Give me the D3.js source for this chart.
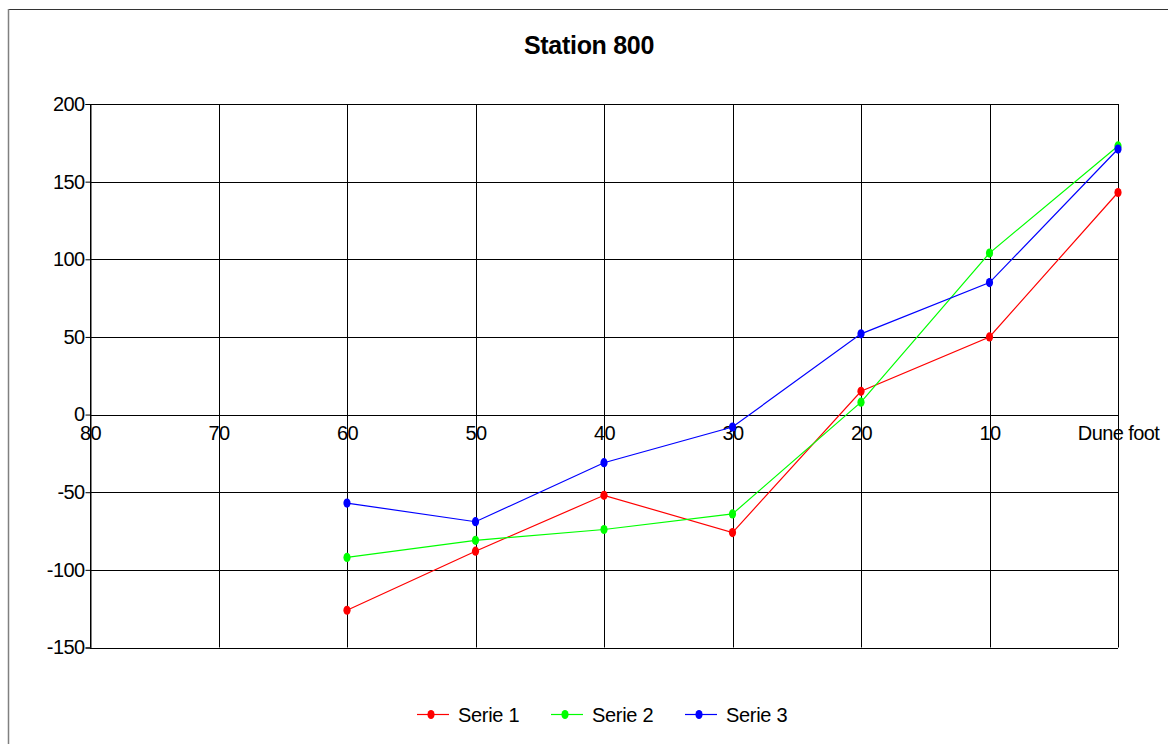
<!DOCTYPE html>
<html><head><meta charset="utf-8">
<script src="https://cdn.jsdelivr.net/npm/d3@7"></script>
<style>body{margin:0;background:#fff}svg{display:block}text{font-family:"Liberation Sans",Arial,sans-serif;fill:#000}</style>
</head><body>
<script>
const categories = ["80","70","60","50","40","30","20","10","Dune foot"];
const serie1 = [null,null,-126,-88,-52,-76,15,50,143];
const serie2 = [null,null,-92,-81,-74,-64,8,104,173];
const serie3 = [null,null,-57,-69,-31,-8,52,85,171];
const yTicks = [200,150,100,50,0,-50,-100,-150];
const seriesNames = ["Serie 1","Serie 2","Serie 3"];
const colors = ["#ff0000","#00ff00","#0000ff"];
const title = "Station 800";

const W=1168,H=744;
const FONT="'Liberation Sans',Arial,sans-serif";
const svg=d3.select("body").append("svg").attr("width",W).attr("height",H);
svg.append("rect").attr("x",8.5).attr("y",9.5).attr("width",1200).attr("height",800)
  .attr("fill","none").attr("stroke","#333");
svg.append("line").attr("x1",8.5).attr("x2",8.5).attr("y1",9).attr("y2",H).attr("stroke","#808080").attr("stroke-width",1.5);

const L=90,R=1118,T=104,B=647.5;
const x=d3.scalePoint().domain(categories).range([L,R]);
const y=d3.scaleLinear().domain([-150,200]).range([B,T]);

svg.append("g").selectAll("line").data(yTicks).join("line")
  .attr("x1",L).attr("x2",R).attr("y1",d=>Math.round(y(d))+0.5).attr("y2",d=>Math.round(y(d))+0.5)
  .attr("stroke","#000").attr("stroke-width",1);
svg.append("g").selectAll("line").data(categories).join("line")
  .attr("x1",d=>Math.round(x(d))+0.5).attr("x2",d=>Math.round(x(d))+0.5).attr("y1",T).attr("y2",B)
  .attr("stroke","#000").attr("stroke-width",1);

const yAxis=d3.axisLeft(y).tickValues(yTicks).tickSize(5).tickPadding(1).tickFormat(d=>String(d));
const gy=svg.append("g").attr("transform",`translate(${L+0.5},0)`).call(yAxis);
gy.select(".domain").attr("stroke","#000");
gy.selectAll("text").style("font-size","20px").style("font-family",FONT).style("letter-spacing","-0.6px").attr("fill","#000");
gy.selectAll(".tick line").attr("stroke","#000");

const xAxis=d3.axisBottom(x).tickSize(0).tickPadding(12);
const gx=svg.append("g").attr("transform",`translate(0,${Math.round(y(0))+0.5})`).call(xAxis);
gx.select(".domain").remove();
gx.selectAll("text").style("font-size","20px").style("font-family",FONT).style("letter-spacing","-0.6px").attr("fill","#000").attr("dy","0.6em");

const allSeries=[serie1,serie2,serie3];
allSeries.forEach((s,i)=>{
  const pts=categories.map((c,j)=>({c,v:s[j]})).filter(d=>d.v!==null);
  svg.append("path").datum(pts)
    .attr("d",d3.line().x(d=>x(d.c)).y(d=>y(d.v)))
    .attr("fill","none").attr("stroke",colors[i]).attr("stroke-width",1.2);
  svg.append("g").selectAll("ellipse").data(pts).join("ellipse")
    .attr("cx",d=>x(d.c)).attr("cy",d=>y(d.v)).attr("rx",3.6).attr("ry",4.6).attr("fill",colors[i]);
});

svg.append("text").attr("x",589).attr("y",54).attr("text-anchor","middle")
  .style("font-size","25px").style("font-weight","bold").style("letter-spacing","-0.3px").text(title);

const legX=[417,551,685];
seriesNames.forEach((n,i)=>{
  const g=svg.append("g").attr("transform",`translate(${legX[i]},714)`);
  g.append("line").attr("x1",0).attr("x2",32).attr("y1",0.5).attr("y2",0.5).attr("stroke",colors[i]).attr("stroke-width",1.2);
  g.append("ellipse").attr("cx",14).attr("cy",0.5).attr("rx",3.6).attr("ry",4.6).attr("fill",colors[i]);
  g.append("text").attr("x",41).attr("y",7.5).style("font-size","20px").style("letter-spacing","-0.3px").text(n);
});
</script>
</body></html>
